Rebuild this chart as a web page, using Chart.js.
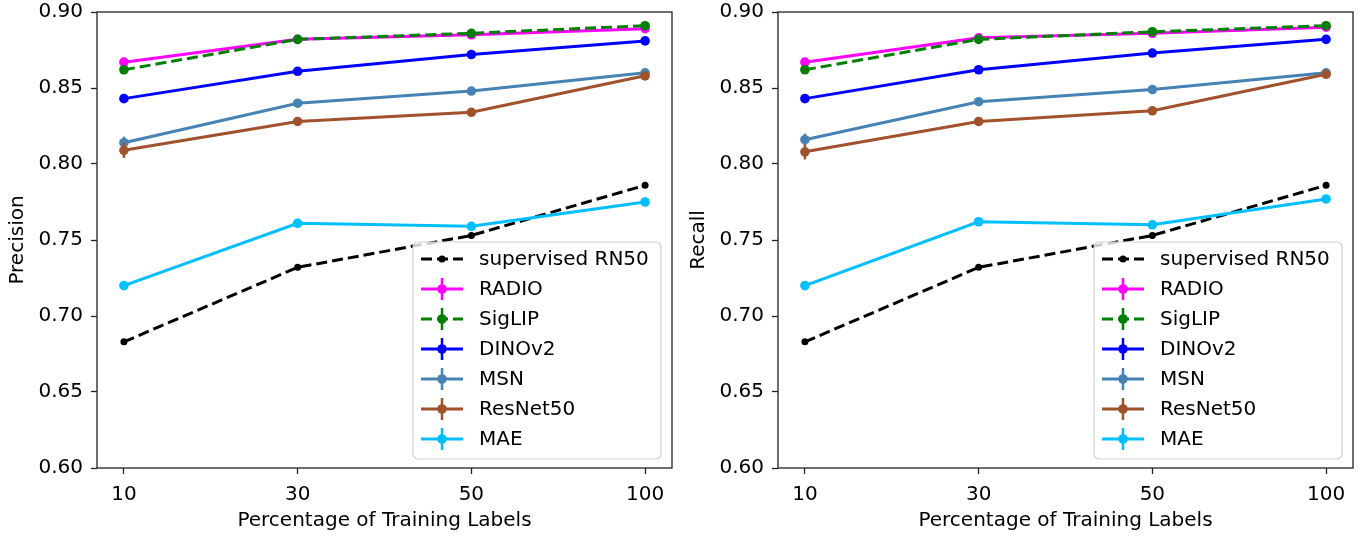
<!DOCTYPE html>
<html>
<head>
<meta charset="utf-8">
<script src="https://cdn.jsdelivr.net/npm/chart.js@4.4.1/dist/chart.umd.min.js"></script>
<style>
body { margin: 0; background: #fff; width: 1362px; height: 538px; overflow: hidden; }
.box { position: absolute; top: 0; width: 681px; height: 538px; }
</style>
</head>
<body>
<div class="box" style="left:0"><canvas id="chartP" width="681" height="538"></canvas></div>
<div class="box" style="left:681px"><canvas id="chartR" width="681" height="538"></canvas></div>
<script>
/*--data--*/
var xLabels = ["10", "30", "50", "100"];
var yTicks = [0.60, 0.65, 0.70, 0.75, 0.80, 0.85, 0.90];
var names = ["supervised RN50", "RADIO", "SigLIP", "DINOv2", "MSN", "ResNet50", "MAE"];

var precSupervised = [0.683, 0.732, 0.753, 0.786];
var precRadio      = [0.867, 0.882, 0.885, 0.889];
var precSiglip     = [0.862, 0.882, 0.886, 0.891];
var precDino       = [0.843, 0.861, 0.872, 0.881];
var precMsn        = [0.814, 0.840, 0.848, 0.860];
var precResnet     = [0.809, 0.828, 0.834, 0.858];
var precMae        = [0.720, 0.761, 0.759, 0.775];

var precErrRadio   = [0.0015, 0.001, 0.001, 0.001];
var precErrSiglip  = [0.001, 0.001, 0.001, 0.001];
var precErrDino    = [0.001, 0.001, 0.001, 0.001];
var precErrMsn     = [0.004, 0.001, 0.001, 0.001];
var precErrResnet  = [0.005, 0.0015, 0.002, 0.001];
var precErrMae     = [0.002, 0.0015, 0.001, 0.0015];

var recSupervised  = [0.683, 0.732, 0.753, 0.786];
var recRadio       = [0.867, 0.883, 0.886, 0.890];
var recSiglip      = [0.862, 0.882, 0.887, 0.891];
var recDino        = [0.843, 0.862, 0.873, 0.882];
var recMsn         = [0.816, 0.841, 0.849, 0.860];
var recResnet      = [0.808, 0.828, 0.835, 0.859];
var recMae         = [0.720, 0.762, 0.760, 0.777];

var recErrRadio    = [0.0015, 0.001, 0.001, 0.001];
var recErrSiglip   = [0.001, 0.001, 0.001, 0.001];
var recErrDino     = [0.001, 0.001, 0.001, 0.001];
var recErrMsn      = [0.004, 0.001, 0.001, 0.001];
var recErrResnet   = [0.005, 0.0015, 0.002, 0.001];
var recErrMae      = [0.0015, 0.0015, 0.0015, 0.0015];

/*--styles--*/
var colors = ["#000000", "#ff00ff", "#008000", "#0000ff", "#4682b4", "#a0522d", "#00bfff"];
var dashed = [true, false, true, false, false, false, false];
var FONT = { family: "'DejaVu Sans', sans-serif", size: 20 };
var AXIS = "#222222";

function makeSets(values, errors) {
  return values.map(function (vals, i) {
    return {
      label: names[i],
      data: vals.map(function (v, j) { return { x: j, y: v }; }),
      errors: errors[i],
      borderColor: colors[i],
      backgroundColor: colors[i],
      borderWidth: 3,
      borderDash: dashed[i] ? [11, 5] : [],
      pointRadius: i === 0 ? 3.5 : 4.8,
      pointBorderWidth: 0,
      pointBackgroundColor: colors[i],
      tension: 0,
      order: 7 - i
    };
  });
}

var errorBars = {
  id: 'errorBars',
  beforeDatasetDraw: function (chart, args) {
    var ds = chart.data.datasets[args.index];
    if (!ds.errors) return;
    var ctx = chart.ctx, ys = chart.scales.y;
    ctx.save();
    ctx.strokeStyle = ds.borderColor;
    ctx.lineWidth = 2.5;
    args.meta.data.forEach(function (el, j) {
      var v = ds.data[j].y, e = ds.errors[j];
      ctx.beginPath();
      ctx.moveTo(el.x, ys.getPixelForValue(v - e));
      ctx.lineTo(el.x, ys.getPixelForValue(v + e));
      ctx.stroke();
    });
    ctx.restore();
  }
};

var frame = {
  id: 'frame',
  afterDatasetsDraw: function (chart) {
    var a = chart.chartArea, ctx = chart.ctx;
    ctx.save();
    ctx.strokeStyle = AXIS;
    ctx.lineWidth = 1.3;
    ctx.strokeRect(a.left, a.top, a.right - a.left, a.bottom - a.top);
    ctx.restore();
  }
};

function roundRect(ctx, x, y, w, h, r) {
  ctx.beginPath();
  ctx.moveTo(x + r, y);
  ctx.arcTo(x + w, y, x + w, y + h, r);
  ctx.arcTo(x + w, y + h, x, y + h, r);
  ctx.arcTo(x, y + h, x, y, r);
  ctx.arcTo(x, y, x + w, y, r);
  ctx.closePath();
}

var innerLegend = {
  id: 'innerLegend',
  afterDraw: function (chart) {
    var a = chart.chartArea, ctx = chart.ctx;
    var w = 248, h = 217;
    var x0 = a.right - 11 - w, y0 = a.bottom - 9 - h;
    ctx.save();
    roundRect(ctx, x0, y0, w, h, 5);
    ctx.fillStyle = "rgba(255,255,255,0.8)";
    ctx.fill();
    ctx.strokeStyle = "#d0d0d0";
    ctx.lineWidth = 1.2;
    ctx.stroke();
    chart.data.datasets.forEach(function (ds, i) {
      var cy = y0 + 17 + i * 30;
      var hx0 = x0 + 8, hx1 = x0 + 50, cx = (hx0 + hx1) / 2;
      ctx.strokeStyle = ds.borderColor;
      ctx.lineWidth = 3;
      ctx.setLineDash(ds.borderDash);
      ctx.beginPath();
      ctx.moveTo(hx0, cy);
      ctx.lineTo(hx1, cy);
      ctx.stroke();
      ctx.setLineDash([]);
      if (ds.errors) {
        ctx.lineWidth = 2.5;
        ctx.beginPath();
        ctx.moveTo(cx, cy - 11);
        ctx.lineTo(cx, cy + 11);
        ctx.stroke();
      }
      ctx.fillStyle = ds.borderColor;
      ctx.beginPath();
      ctx.arc(cx, cy, ds.pointRadius, 0, Math.PI * 2);
      ctx.fill();
      ctx.fillStyle = "#000";
      ctx.font = FONT.size + "px " + FONT.family;
      ctx.textBaseline = "middle";
      ctx.textAlign = "left";
      ctx.fillText(ds.label, x0 + 66, cy + 1);
    });
    ctx.restore();
  }
};

function makeChart(id, yTitle, values, errors) {
  var ctx = document.getElementById(id).getContext('2d');
  return new Chart(ctx, {
    type: 'line',
    data: { datasets: makeSets(values, errors) },
    plugins: [errorBars, frame, innerLegend],
    options: {
      responsive: false,
      animation: false,
      devicePixelRatio: 1,
      layout: { padding: { top: 12, right: 9, left: 0, bottom: 0 } },
      plugins: { legend: { display: false }, tooltip: { enabled: false } },
      scales: {
        x: {
          type: 'linear',
          min: -0.155,
          max: 3.155,
          afterBuildTicks: function (s) { s.ticks = xLabels.map(function (l, i) { return { value: i }; }); },
          afterFit: function (s) { s.height = 70; s.paddingLeft = 0; s.paddingRight = 0; },
          ticks: { callback: function (v) { return xLabels[v]; }, font: FONT, color: "#000", padding: 9, maxRotation: 0, autoSkip: false },
          grid: { drawOnChartArea: false, drawTicks: true, tickLength: 6, tickWidth: 1.3, tickColor: AXIS },
          border: { display: false },
          title: { display: true, text: 'Percentage of Training Labels', font: FONT, color: "#000", padding: { top: 2, bottom: 5 } }
        },
        y: {
          min: 0.6,
          max: 0.9,
          afterBuildTicks: function (s) { s.ticks = yTicks.map(function (v) { return { value: v }; }); },
          afterFit: function (s) { s.width = 97; s.paddingTop = 0; s.paddingBottom = 0; },
          ticks: { callback: function (v) { return v.toFixed(2); }, font: FONT, color: "#000", padding: 8 },
          grid: { drawOnChartArea: false, drawTicks: true, tickLength: 6, tickWidth: 1.3, tickColor: AXIS },
          border: { display: false },
          title: { display: true, text: yTitle, font: FONT, color: "#000", padding: { top: 6, bottom: 0 } }
        }
      }
    }
  });
}

var chartP = makeChart("chartP", "Precision",
  [precSupervised, precRadio, precSiglip, precDino, precMsn, precResnet, precMae],
  [null, precErrRadio, precErrSiglip, precErrDino, precErrMsn, precErrResnet, precErrMae]);

var chartR = makeChart("chartR", "Recall",
  [recSupervised, recRadio, recSiglip, recDino, recMsn, recResnet, recMae],
  [null, recErrRadio, recErrSiglip, recErrDino, recErrMsn, recErrResnet, recErrMae]);
</script>
</body>
</html>
